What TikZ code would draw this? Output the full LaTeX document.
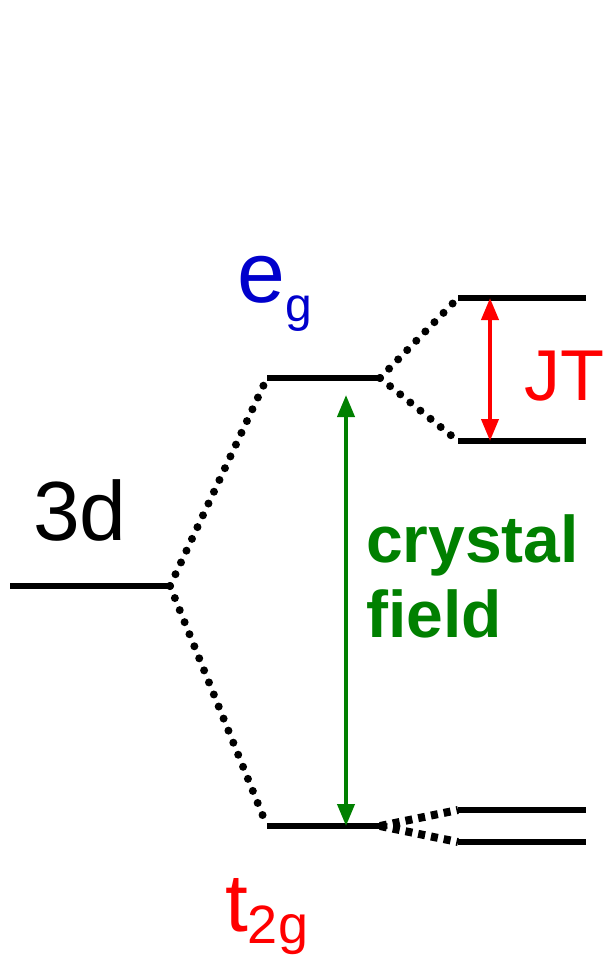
\documentclass[tikz,border=0pt]{standalone}
\usepackage{fontspec}
\setmainfont{Liberation Sans}
\usetikzlibrary{arrows.meta}

\definecolor{egblue}{RGB}{0,0,204}
\definecolor{jtred}{RGB}{255,0,0}
\definecolor{cfgreen}{RGB}{0,128,0}

% 下付き文字（文字, 大きさ, 下げ幅）
\newcommand{\lowsub}[3]{\raisebox{-#3}{\fontsize{#2}{#2}\selectfont #1}}

\begin{document}
\begin{tikzpicture}[x=1pt, y=-1pt, line join=round,
    level/.style={line width=6pt},
    dots/.style={line width=8pt, line cap=round, dash pattern=on 0pt off 13pt},
    squares/.style={line width=8pt, dash pattern=on 7pt off 6pt},
    gap/.style={line width=4pt, {Triangle[length=22pt,width=17pt]}-{Triangle[length=22pt,width=17pt]}}]

    \useasboundingbox (0,0) rectangle (613,968);

    % 準位の座標
    \coordinate (d3L) at (10,586);
    \coordinate (d3R) at (170,586);
    \coordinate (egL) at (267,378);
    \coordinate (egR) at (380,378);
    \coordinate (t2L) at (267,826);
    \coordinate (t2R) at (380,826);
    \coordinate (jtuL) at (458,298);
    \coordinate (jtuR) at (586,298);
    \coordinate (jtlL) at (458,441);
    \coordinate (jtlR) at (586,441);
    \coordinate (tuL) at (458,810);
    \coordinate (tuR) at (586,810);
    \coordinate (tlL) at (458,842);
    \coordinate (tlR) at (586,842);

    % 矢印の端
    \coordinate (cfTop) at (346,395);
    \coordinate (cfBot) at (346,826);
    \coordinate (jtTop) at (490,298);
    \coordinate (jtBot) at (490,441);

    % 準位（実線）
    \draw [level] (d3L) -- (d3R);
    \draw [level] (egL) -- (egR);
    \draw [level] (t2L) -- (t2R);
    \draw [level] (jtuL) -- (jtuR);
    \draw [level] (jtlL) -- (jtlR);
    \draw [level] (tuL) -- (tuR);
    \draw [level] (tlL) -- (tlR);

    % 分裂の点線
    \draw [dots] (d3R) -- (egL);
    \draw [dots] (d3R) -- (t2L);
    \draw [dots] (egR) -- (jtuL);
    \draw [dots] (egR) -- (jtlL);
    \draw [squares] (t2R) -- (tuL);
    \draw [squares] (t2R) -- (tlL);

    % 分裂幅の矢印
    \draw [gap, cfgreen] (cfTop) -- (cfBot);
    \draw [gap, jtred] (jtTop) -- (jtBot);

    % ラベル
    \node[anchor=base west, inner sep=0pt, font=\fontsize{84}{84}\selectfont] (lbl3d) at (33,540) {3d};
    \node[anchor=base west, inner sep=0pt, text=egblue, font=\fontsize{86}{86}\selectfont] (lbleg) at (237,302) {e\lowsub{g}{48}{19pt}};
    \node[anchor=base west, inner sep=0pt, text=jtred, font=\fontsize{82}{82}\selectfont] (lblt2g) at (225,931) {t\lowsub{2g}{54}{12pt}};
    \node[anchor=base west, inner sep=0pt, text=jtred, font=\fontsize{72}{72}\selectfont] (lbljt) at (524,400) {JT};
    \node[anchor=base west, inner sep=0pt, text=cfgreen, font=\bfseries\fontsize{66}{66}\selectfont] (lblcr) at (366,562) {crystal};
    \node[anchor=base west, inner sep=0pt, text=cfgreen, font=\bfseries\fontsize{66}{66}\selectfont] (lblfi) at (366,637) {field};

\end{tikzpicture}
\end{document}
